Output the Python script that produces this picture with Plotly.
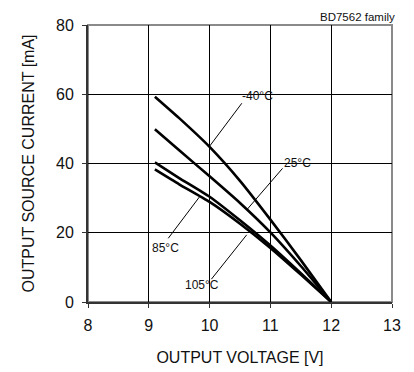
import plotly.graph_objects as go

voltage = [9.1, 9.5, 10.0, 10.5, 11.0, 11.5, 12.0]
cur_m40 = [59.3, 53.1, 44.8, 35.0, 23.8, 12.1, 0.0]
cur_25 = [49.9, 43.8, 36.3, 28.6, 20.1, 10.4, 0.0]
cur_85 = [40.3, 35.8, 30.4, 23.6, 16.3, 8.3, 0.0]
cur_105 = [38.3, 34.0, 28.9, 22.6, 15.6, 7.9, 0.0]

labels = ["-40°C", "25°C", "85°C", "105°C"]
label_x = [10.78, 11.45, 9.27, 9.87]
label_y = [59.4, 40.1, 15.5, 4.9]
leader_x0 = [10.53, 11.20, 9.32, 10.03]
leader_y0 = [57.4, 38.6, 18.4, 6.6]
leader_x1 = [10.00, 10.61, 9.84, 10.61]
leader_y1 = [45.0, 26.6, 30.5, 19.4]

x_ticks = [8, 9, 10, 11, 12, 13]
y_ticks = [0, 20, 40, 60, 80]

FONT = "Liberation Sans, Arial, sans-serif"

fig = go.Figure()
for ys in [cur_m40, cur_25, cur_85, cur_105]:
    fig.add_trace(go.Scatter(x=voltage, y=ys, mode="lines",
                             line=dict(color="black", width=2.6, shape="spline", smoothing=0.5),
                             showlegend=False, hoverinfo="skip"))

shapes = [dict(type="rect", xref="x domain", yref="y domain", x0=0, x1=1, y0=0, y1=1,
               line=dict(color="#8a8a8a", width=2), layer="below")]
for i in range(len(labels)):
    shapes.append(dict(type="line", xref="x", yref="y",
                       x0=leader_x0[i], y0=leader_y0[i], x1=leader_x1[i], y1=leader_y1[i],
                       line=dict(color="black", width=1)))

annotations = []
for i, t in enumerate(labels):
    annotations.append(dict(x=label_x[i], y=label_y[i], xref="x", yref="y", text=t,
                            showarrow=False, font=dict(family=FONT, size=12, color="#111")))
annotations.append(dict(x=1.015, y=1.0, xref="paper", yref="paper", xanchor="right", yanchor="bottom",
                        yshift=0, text="BD7562 family", showarrow=False,
                        font=dict(family=FONT, size=11.5, color="#111")))

fig.update_layout(
    width=406, height=364,
    margin=dict(l=80, r=22, t=17, b=70),
    paper_bgcolor="white", plot_bgcolor="white",
    shapes=shapes, annotations=annotations,
    font=dict(family=FONT, color="#111"),
    xaxis=dict(range=[8, 13], tickvals=x_ticks, showgrid=True, gridcolor="#000", gridwidth=1,
               showline=True, linecolor="#333", linewidth=2, ticks="outside", ticklen=4,
               tickcolor="#333", tickfont=dict(size=16, family=FONT), zeroline=False,
               ticklabelstandoff=4, automargin=False,
               title=dict(text="OUTPUT VOLTAGE [V]", font=dict(size=16, family=FONT), standoff=19)),
    yaxis=dict(range=[0, 80], tickvals=y_ticks, showgrid=True, gridcolor="#000", gridwidth=1,
               showline=True, linecolor="#333", linewidth=2, ticks="outside", ticklen=4,
               tickcolor="#333", tickfont=dict(size=16, family=FONT), zeroline=False,
               ticklabelstandoff=5, automargin=False,
               title=dict(text="OUTPUT SOURCE CURRENT [mA]", font=dict(size=16, family=FONT), standoff=17)),
)

fig.write_html("out.html")
